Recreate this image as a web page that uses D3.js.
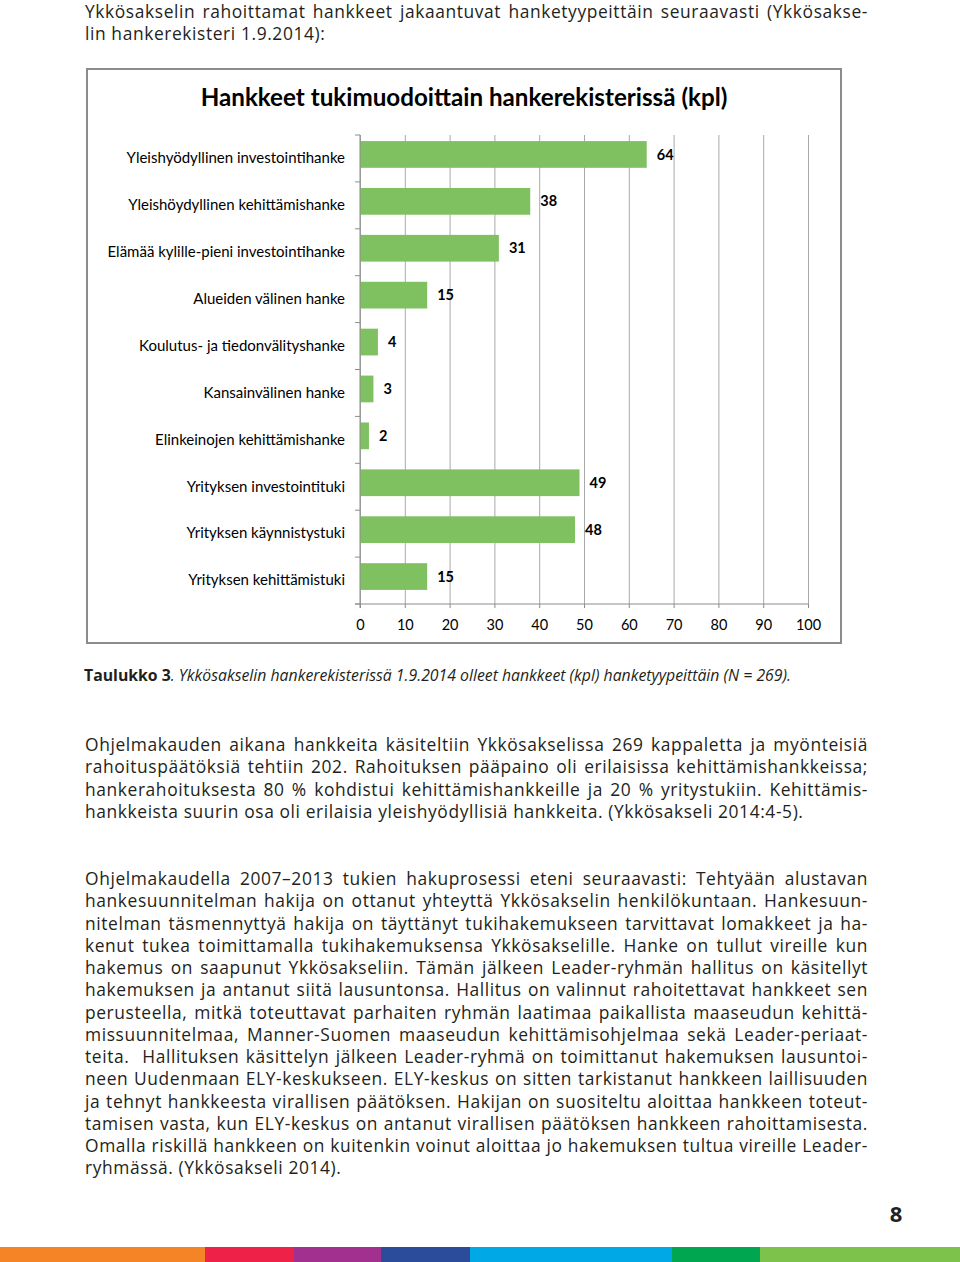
<!DOCTYPE html>
<html>
<head>
<meta charset="utf-8">
<script src="https://cdn.jsdelivr.net/npm/d3@7"></script>
<style>
  body { margin: 0; background: #fff; }
  svg { display: block; }
</style>
</head>
<body>
<svg id="page"></svg>
<script>
// chart data
const categories = [
    'Yleishyödyllinen investointihanke',
    'Yleishöydyllinen kehittämishanke',
    'Elämää kylille-pieni investointihanke',
    'Alueiden välinen hanke',
    'Koulutus- ja tiedonvälityshanke',
    'Kansainvälinen hanke',
    'Elinkeinojen kehittämishanke',
    'Yrityksen investointituki',
    'Yrityksen käynnistystuki',
    'Yrityksen kehittämistuki'
];
const counts = [64, 38, 31, 15, 4, 3, 2, 49, 48, 15];
const xTicks = [0, 10, 20, 30, 40, 50, 60, 70, 80, 90, 100];
const chartTitle = 'Hankkeet tukimuodoittain hankerekisterissä (kpl)';

// page text
const introLines = [
    'Ykkösakselin rahoittamat hankkeet jakaantuvat hanketyypeittäin seuraavasti (Ykkösakse-',
    'lin hankerekisteri 1.9.2014):'
];
const captionBold = 'Taulukko 3';
const captionItalic = '. Ykkösakselin hankerekisterissä 1.9.2014 olleet hankkeet (kpl) hanketyypeittäin (N = 269).';
const para1 = [
    'Ohjelmakauden aikana hankkeita käsiteltiin Ykkösakselissa 269 kappaletta ja myönteisiä',
    'rahoituspäätöksiä tehtiin 202. Rahoituksen pääpaino oli erilaisissa kehittämishankkeissa;',
    'hankerahoituksesta 80 % kohdistui kehittämishankkeille ja 20 % yritystukiin. Kehittämis-',
    'hankkeista suurin osa oli erilaisia yleishyödyllisiä hankkeita. (Ykkösakseli 2014:4-5).'
];
const para2 = [
    'Ohjelmakaudella 2007–2013 tukien hakuprosessi eteni seuraavasti: Tehtyään alustavan',
    'hankesuunnitelman hakija on ottanut yhteyttä Ykkösakselin henkilökuntaan. Hankesuun-',
    'nitelman täsmennyttyä hakija on täyttänyt tukihakemukseen tarvittavat lomakkeet ja ha-',
    'kenut tukea toimittamalla tukihakemuksensa Ykkösakselille. Hanke on tullut vireille kun',
    'hakemus on saapunut Ykkösakseliin. Tämän jälkeen Leader-ryhmän hallitus on käsitellyt',
    'hakemuksen ja antanut siitä lausuntonsa. Hallitus on valinnut rahoitettavat hankkeet sen',
    'perusteella, mitkä toteuttavat parhaiten ryhmän laatimaa paikallista maaseudun kehittä-',
    'missuunnitelmaa, Manner-Suomen maaseudun kehittämisohjelmaa sekä Leader-periaat-',
    'teita.  Hallituksen käsittelyn jälkeen Leader-ryhmä on toimittanut hakemuksen lausuntoi-',
    'neen Uudenmaan ELY-keskukseen. ELY-keskus on sitten tarkistanut hankkeen laillisuuden',
    'ja tehnyt hankkeesta virallisen päätöksen. Hakijan on suositeltu aloittaa hankkeen toteut-',
    'tamisen vasta, kun ELY-keskus on antanut virallisen päätöksen hankkeen rahoittamisesta.',
    'Omalla riskillä hankkeen on kuitenkin voinut aloittaa jo hakemuksen tultua vireille Leader-',
    'ryhmässä. (Ykkösakseli 2014).'
];
const footerColors = ['#f58426', '#ee2149', '#a2308f', '#2b4b9b', '#00a8e6', '#00a650', '#7dc24b'];
const footerStops = [0, 205, 294, 381, 470, 672, 760, 960];

const W = 960, H = 1262;
const bodyFont = '"Open Sans", sans-serif';
const chartFont = 'Lato, sans-serif';
const textColor = '#231f20';

const svg = d3.select('#page')
    .attr('width', W)
    .attr('height', H);

// justified text block, one line per entry
function textBlock(lines, x, y0, lineH) {
    const width = 783;
    lines.forEach((line, i) => {
        const t = svg.append('text')
            .attr('x', x)
            .attr('y', y0 + i * lineH)
            .attr('font-family', bodyFont)
            .attr('font-size', 17.4)
            .attr('letter-spacing', 0.6)
            .attr('fill', textColor)
            .attr('xml:space', 'preserve')
            .text(line);
        if (i === lines.length - 1) return;
        const spaces = (line.match(/ /g) || []).length;
        if (t.node().getComputedTextLength() > width) {
            t.attr('letter-spacing', 0.2);
        }
        const natural = t.node().getComputedTextLength();
        if (spaces > 0 && natural < width) {
            t.attr('word-spacing', (width - natural) / spaces);
        } else if (natural > width) {
            t.attr('textLength', width).attr('lengthAdjust', 'spacingAndGlyphs');
        }
    });
}

textBlock(introLines, 85, 18, 22.3);
textBlock(para1, 85, 751, 22.3);
textBlock(para2, 85, 885, 22.25);

// caption
const cap = svg.append('text')
    .attr('x', 84)
    .attr('y', 681)
    .attr('font-family', bodyFont)
    .attr('font-size', 15.8)
    .attr('fill', textColor);
cap.append('tspan').attr('font-weight', 'bold').text(captionBold);
cap.append('tspan').attr('font-style', 'italic').text(captionItalic);

// page number
svg.append('text')
    .attr('x', 896)
    .attr('y', 1222)
    .attr('text-anchor', 'middle')
    .attr('font-family', bodyFont)
    .attr('font-weight', 'bold')
    .attr('font-size', 22)
    .attr('fill', textColor)
    .text('8');

// colour strip at the bottom
svg.append('g').selectAll('rect')
    .data(footerColors)
    .join('rect')
    .attr('x', (d, i) => footerStops[i])
    .attr('y', 1247)
    .attr('width', (d, i) => footerStops[i + 1] - footerStops[i])
    .attr('height', H - 1247)
    .attr('fill', d => d);

// ---------- chart ----------
const box = { x: 87, y: 69, width: 754, height: 574 };
const plot = { left: 360, right: 808, top: 135, bottom: 604 };

svg.append('rect')
    .attr('x', box.x)
    .attr('y', box.y)
    .attr('width', box.width)
    .attr('height', box.height)
    .attr('fill', '#fff')
    .attr('stroke', '#8c8c8c')
    .attr('stroke-width', 2);

svg.append('text')
    .attr('x', box.x + box.width / 2)
    .attr('y', 106)
    .attr('text-anchor', 'middle')
    .attr('font-family', chartFont)
    .attr('font-weight', 'bold')
    .attr('font-size', 24.2)
    .attr('fill', '#000')
    .text(chartTitle);

const xScale = d3.scaleLinear()
    .domain([0, 100])
    .range([plot.left, plot.right]);

const yScale = d3.scaleBand()
    .domain(categories)
    .range([plot.top, plot.bottom])
    .paddingInner(0.43)
    .paddingOuter(0.215);

const gridColor = '#a9a9a9';
const axisColor = '#8c8c8c';

// vertical gridlines
const gridAxis = d3.axisBottom(xScale)
    .tickValues(xTicks)
    .tickSize(-(plot.bottom - plot.top))
    .tickFormat('');
const gridG = svg.append('g')
    .attr('transform', `translate(0, ${plot.bottom})`)
    .call(gridAxis);
gridG.select('.domain').remove();
gridG.selectAll('line').attr('stroke', gridColor);

// x axis with labels
const xAxis = d3.axisBottom(xScale)
    .tickValues(xTicks)
    .tickSize(4)
    .tickPadding(12);
const xAxisG = svg.append('g')
    .attr('transform', `translate(0, ${plot.bottom})`)
    .call(xAxis);
xAxisG.select('.domain').remove();
xAxisG.selectAll('line').attr('stroke', axisColor);
xAxisG.selectAll('text')
    .attr('font-family', chartFont)
    .attr('font-size', 14.5)
    .attr('fill', '#000');

svg.append('line')
    .attr('x1', plot.left - 5)
    .attr('x2', plot.right)
    .attr('y1', plot.bottom)
    .attr('y2', plot.bottom)
    .attr('stroke', axisColor);

// bars, nudged up a little as in the original
const barShift = -4;
svg.append('g')
    .selectAll('rect')
    .data(counts)
    .join('rect')
    .attr('x', xScale(0))
    .attr('y', (d, i) => yScale(categories[i]) + barShift)
    .attr('width', d => xScale(d) - xScale(0))
    .attr('height', yScale.bandwidth())
    .attr('fill', '#7fc161');

// value labels
svg.append('g')
    .selectAll('text')
    .data(counts)
    .join('text')
    .attr('x', d => xScale(d) + 10)
    .attr('y', (d, i) => yScale(categories[i]) + yScale.bandwidth() / 2 + barShift)
    .attr('dy', '0.35em')
    .attr('font-family', chartFont)
    .attr('font-weight', 'bold')
    .attr('font-size', 14.5)
    .attr('fill', '#000')
    .text(d => d);

// category axis
const yAxis = d3.axisLeft(yScale)
    .tickSize(0)
    .tickPadding(15);
const yAxisG = svg.append('g')
    .attr('transform', `translate(${plot.left}, 0)`)
    .call(yAxis);
yAxisG.select('.domain').remove();
yAxisG.selectAll('text')
    .attr('font-family', chartFont)
    .attr('font-size', 15)
    .attr('fill', '#000');

// category boundary ticks
const step = yScale.step();
svg.append('g')
    .selectAll('line')
    .data(d3.range(categories.length + 1))
    .join('line')
    .attr('x1', plot.left - 5)
    .attr('x2', plot.left)
    .attr('y1', i => plot.top + i * step)
    .attr('y2', i => plot.top + i * step)
    .attr('stroke', axisColor);

svg.append('line')
    .attr('x1', plot.left)
    .attr('x2', plot.left)
    .attr('y1', plot.top)
    .attr('y2', plot.bottom + 4)
    .attr('stroke', axisColor);
</script>
</body>
</html>
